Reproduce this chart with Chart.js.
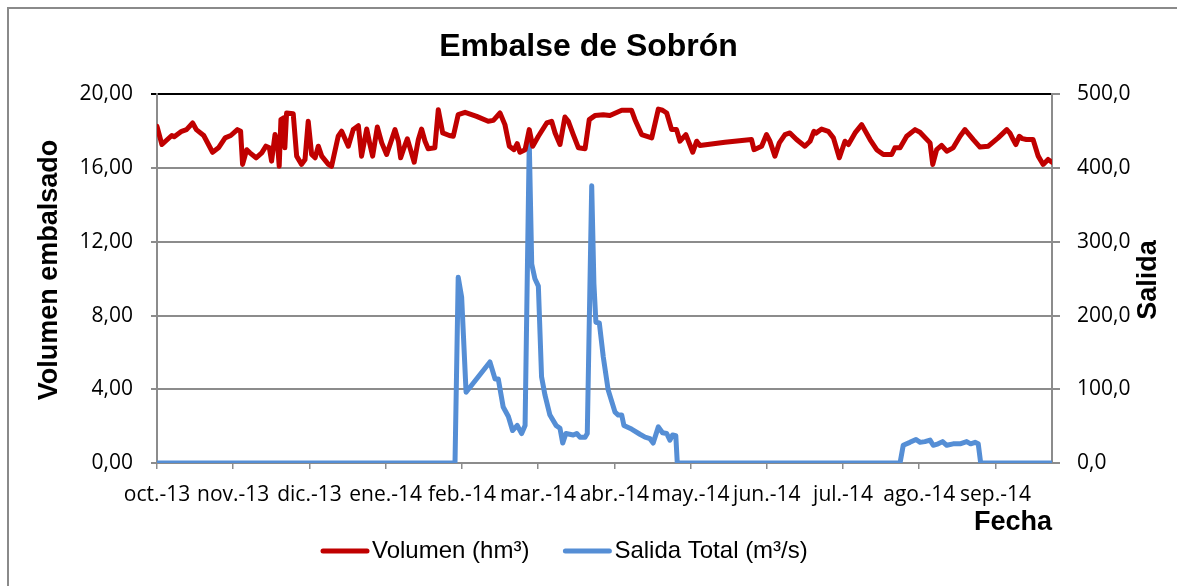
<!DOCTYPE html>
<html>
<head>
<meta charset="utf-8">
<script src="https://cdn.jsdelivr.net/npm/chart.js@4/dist/chart.umd.min.js"></script>
<style>
  body { margin: 0; background: #fff; overflow: hidden; }
  canvas { display: block; }
</style>
</head>
<body>
<canvas id="grafico" width="1177" height="586"></canvas>
<script>
// dias contados desde el 1 de octubre de 2013 (eje de categorias cada 31 dias)
var meses = ['oct.-13','nov.-13','dic.-13','ene.-14','feb.-14','mar.-14','abr.-14','may.-14','jun.-14','jul.-14','ago.-14','sep.-14']
var posMeses = [0,31,62,93,124,155,186,217,248,279,310,341]
var ticksVolumen = [0,4,8,12,16,20]
var ticksSalida = [0,100,200,300,400,500]

// Volumen (hm3)
var diasVol = [0,2,6,7,10,12,14.5,16,19,22.6,25,27.7,30,32.7,34,34.8,36.5,37.8,40.3,42.6,44.3,45.7,46.6,48,49,49.7,50.4,51.4,52,52.7,55.4,56.8,58.8,60.2,61.5,62.9,64.3,65.6,67,69.7,71,73.7,75.1,77.8,79.8,81.9,83.2,85.3,86.6,87.7,89.6,91.4,93.4,96.8,98.2,99.1,100.2,101.8,102.9,104.6,106.3,107.6,109,110.3,113,114.4,116.2,118.9,120.5,122.5,125.3,130,134.7,136.8,139.5,141.5,143.3,145.2,146.5,147.6,149.7,151.4,152.8,155.1,158.5,160.5,161.9,163.9,165.9,167.3,169.3,171.4,174.1,175.8,178.1,181.5,184.2,189,193,194.4,197.1,201.2,203.9,205.6,207.3,209.3,211.3,212.7,215.1,217.9,219.5,220.8,231,241.8,242.8,245.9,247.9,249.3,251.3,253.1,255.4,257.4,260.1,263.5,265.6,267.2,268,270.3,273,275.1,277.5,279.8,281.2,283.9,286.6,290,292.7,295.4,298.8,300.1,302.2,304.9,308.3,310.3,314.4,315.5,317.1,319.1,321.2,323.8,326.6,328.6,332,334.7,338.1,342.1,345.6,346.9,348.2,349.3,350.7,352,353.6,356.3,358.4,360.4,362.4,364]
var volumen = [18.27,17.28,17.77,17.7,18.0,18.09,18.45,18.09,17.77,16.86,17.1,17.64,17.77,18.09,18.0,16.2,17.0,16.83,16.56,16.83,17.19,17.1,16.38,17.82,17.37,16.1,18.63,18.72,17.1,18.99,18.95,16.65,16.2,16.47,18.54,16.74,16.56,17.19,16.65,16.2,16.1,17.73,18.0,17.19,18.09,18.3,16.65,18.12,17.28,16.65,18.23,17.37,16.74,18.09,17.46,16.56,17.0,17.59,17.1,16.32,17.55,18.12,17.46,17.05,17.1,19.17,17.91,17.77,17.73,18.9,19.03,18.81,18.54,18.59,18.99,18.36,17.19,17.0,17.33,16.86,17.0,18.09,17.19,17.73,18.45,18.54,17.91,17.28,18.77,18.54,17.82,17.1,17.05,18.63,18.85,18.9,18.85,19.14,19.14,18.63,17.82,17.64,19.2,19.14,18.99,18.09,18.09,17.46,17.82,16.86,17.46,17.23,17.4,17.55,17.0,17.19,17.82,17.46,16.65,17.37,17.82,17.91,17.55,17.19,17.46,18.0,17.9,18.12,18.0,17.64,16.56,17.46,17.28,17.91,18.36,17.55,17.0,16.74,16.74,17.1,17.1,17.73,18.09,17.95,17.37,16.2,17.0,17.23,16.92,17.1,17.73,18.09,17.55,17.14,17.19,17.64,18.09,17.9,17.55,17.28,17.73,17.6,17.55,17.55,16.65,16.2,16.47,16.32]

// Salida Total (m3/s)
var diasSal = [0,121.2,122.5,123.9,125.7,135.4,137.5,138.8,140.8,142.9,144.6,146.5,148.3,149.7,151.4,152.4,153.7,155.1,156.4,157.8,159.8,162.3,163.9,165,166.3,169.3,170.7,172,174.1,175,176.8,177.7,178.5,179.9,181.5,183.5,186.3,187.6,189,189.9,193,196.4,198.5,200.5,201.8,203.9,205.6,207.3,208.6,209.7,211,211.6,302.2,303.5,306.2,308.7,310.3,312.3,314.4,315.7,317.7,319.5,321.2,323.8,326.6,329.3,330.9,332.7,334,335,364]
var salida = [0,0,252,225,96,137,114,114,76,63,44,51,40,51,435,270,250,240,117,92,65,51,47,27,40,38,40,35,35,40,376,243,191,190,144,99,69,65,65,51,46,39,35,33,27,49,41,40,31,38,37,0,0,24,28,32,28,29,31,24,26,29,24,26,26,29,26,28,26,0,0]

var titulo = 'Embalse de Sobrón'
var tituloY = 'Volumen embalsado'
var tituloY1 = 'Salida'
var tituloX = 'Fecha'

var rojo = '#C00000'
var azul = '#558ED5'
var gris = '#8c8c8c'
var fuenteTicks = { family: '"Open Sans", sans-serif', size: 21 }
var fuenteBold = '"Liberation Sans", Arial, sans-serif'

function puntos(xs, ys){
    var p = []
    for(var i=0;i<xs.length;i++) p.push({x:xs[i], y:ys[i]})
    return p
}

// titulos de ejes verticales (los dos leen de abajo a arriba) y leyenda
var extras = {
    id: 'extras',
    beforeDraw(chart){
        var ctx = chart.ctx
        ctx.save()
        ctx.strokeStyle = '#8a8a8a'
        ctx.lineWidth = 2
        ctx.beginPath()
        ctx.moveTo(8, 600)
        ctx.lineTo(8, 8)
        ctx.lineTo(1200, 8)
        ctx.stroke()
        ctx.restore()
    },
    afterDraw(chart){
        var ctx = chart.ctx
        ctx.save()
        ctx.fillStyle = '#000'
        ctx.font = 'bold 27px ' + fuenteBold
        ctx.textAlign = 'center'
        ctx.textBaseline = 'middle'
        ctx.save()
        ctx.translate(50, 270)
        ctx.rotate(-Math.PI/2)
        ctx.fillText(tituloY, 0, 0)
        ctx.restore()
        ctx.save()
        ctx.translate(1149, 280)
        ctx.rotate(-Math.PI/2)
        ctx.fillText(tituloY1, 0, 0)
        ctx.restore()

        // leyenda
        ctx.font = '24px ' + fuenteBold
        ctx.textAlign = 'left'
        var x = 321
        var y = 551
        chart.data.datasets.forEach(function(ds){
            ctx.strokeStyle = ds.borderColor
            ctx.lineWidth = 5
            ctx.lineCap = 'round'
            ctx.beginPath()
            ctx.moveTo(x + 2, y)
            ctx.lineTo(x + 46, y)
            ctx.stroke()
            ctx.fillText(ds.label, x + 51, y)
            x += 51 + ctx.measureText(ds.label).width + 34
        })
        ctx.restore()
    }
}

new Chart(document.getElementById('grafico'), {
    type: 'line',
    data: {
        datasets: [{
            label: 'Volumen (hm³)',
            data: puntos(diasVol, volumen),
            yAxisID: 'y',
            borderColor: rojo,
            backgroundColor: rojo,
            borderWidth: 5,
            pointRadius: 0,
            tension: 0,
            borderJoinStyle: 'round',
            borderCapStyle: 'round'
        },{
            label: 'Salida Total (m³/s)',
            data: puntos(diasSal, salida),
            yAxisID: 'y1',
            borderColor: azul,
            backgroundColor: azul,
            borderWidth: 5,
            pointRadius: 0,
            tension: 0,
            borderJoinStyle: 'round',
            borderCapStyle: 'round'
        }]
    },
    options: {
        responsive: false,
        animation: false,
        devicePixelRatio: 1,
        layout: { padding: { top: 0, left: 0, right: 0, bottom: 50 } },
        plugins: {
            legend: { display: false },
            tooltip: { enabled: false },
            title: {
                display: true,
                text: titulo,
                color: '#000',
                font: { family: fuenteBold, size: 32, weight: 'bold' },
                padding: { top: 28, bottom: 28 }
            }
        },
        scales: {
            x: {
                type: 'linear',
                min: 0,
                max: 364,
                afterBuildTicks: function(scale){
                    scale.ticks = posMeses.map(function(v){ return {value: v} })
                },
                afterFit: function(scale){ scale.height = 73 },
                ticks: {
                    autoSkip: false,
                    maxRotation: 0,
                    minRotation: 0,
                    color: '#000',
                    font: fuenteTicks,
                    padding: 13,
                    callback: function(v, i){ return meses[i] }
                },
                grid: { drawOnChartArea: false, drawTicks: true, tickLength: 6, color: gris, lineWidth: 1.5 },
                border: { display: true, color: gris, width: 2 },
                title: {
                    display: true,
                    text: tituloX,
                    align: 'end',
                    color: '#000',
                    font: { family: fuenteBold, size: 27, weight: 'bold', lineHeight: 1 },
                    padding: { top: 0, bottom: 0 }
                }
            },
            y: {
                position: 'left',
                min: 0,
                max: 20,
                afterBuildTicks: function(scale){
                    scale.ticks = ticksVolumen.map(function(v){ return {value: v} })
                },
                afterFit: function(scale){ scale.width = 157 },
                ticks: {
                    color: '#000',
                    font: fuenteTicks,
                    padding: 18,
                    callback: function(v){ return v.toFixed(2).replace('.', ',') }
                },
                grid: {
                    drawTicks: true,
                    tickLength: 6,
                    lineWidth: 2,
                    color: function(c){ return c.tick && c.tick.value === 20 ? '#000' : gris }
                },
                border: { display: true, color: gris, width: 2 }
            },
            y1: {
                position: 'right',
                min: 0,
                max: 500,
                afterBuildTicks: function(scale){
                    scale.ticks = ticksSalida.map(function(v){ return {value: v} })
                },
                afterFit: function(scale){ scale.width = 125 },
                ticks: {
                    color: '#000',
                    font: fuenteTicks,
                    padding: 17,
                    callback: function(v){ return v.toFixed(1).replace('.', ',') }
                },
                grid: { drawOnChartArea: false, drawTicks: true, tickLength: 8, color: gris, lineWidth: 2 },
                border: { display: true, color: gris, width: 2 }
            }
        }
    },
    plugins: [extras]
})
</script>
</body>
</html>
